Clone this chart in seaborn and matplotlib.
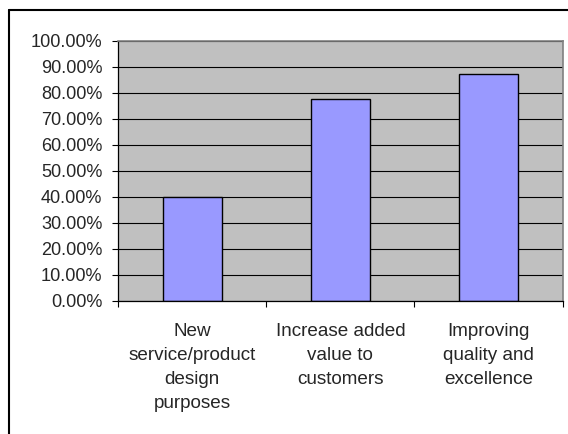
import matplotlib
matplotlib.use("Agg")
import matplotlib.pyplot as plt
import matplotlib.ticker as mticker
from matplotlib.lines import Line2D
import seaborn as sns
import pandas as pd

# Chart data
categories = [
    "New\nservice/product\ndesign\npurposes",
    "Increase added\nvalue to\ncustomers",
    "Improving\nquality and\nexcellence",
]
shares = [0.40, 0.774, 0.873]
y_ticks = [i / 10 for i in range(11)]

df = pd.DataFrame({"category": categories, "share": shares})

sns.set_style("white")
plt.rcParams["font.family"] = ["Liberation Sans", "DejaVu Sans"]

W, H = 568, 434
fig = plt.figure(figsize=(W / 100, H / 100), dpi=100)
fig.patch.set_facecolor("white")

# Plot area placed in pixel terms
left, right, top, bottom = 118.3, 562.5, 40.7, 300.7
ax = fig.add_axes([left / W, 1 - bottom / H, (right - left) / W, (bottom - top) / H])
ax.set_facecolor("#C0C0C0")

sns.barplot(data=df, x="category", y="share", color="#9999FF",
            edgecolor="black", linewidth=1.0, width=0.4, saturation=1, ax=ax)

ax.set_xlim(-0.5, len(categories) - 0.5)
ax.set_ylim(0, 1)
ax.set_xlabel("")
ax.set_ylabel("")

# Horizontal gridlines behind the bars
ax.set_axisbelow(True)
ax.set_yticks(y_ticks)
ax.yaxis.set_major_formatter(mticker.FuncFormatter(lambda v, _: f"{v * 100:.2f}%"))
ax.grid(axis="y", color="black", linewidth=0.8)
ax.grid(axis="x", visible=False)

# Category labels centred on bars, tick marks at category boundaries
ax.set_xticks(range(len(categories)))
ax.set_xticklabels(categories, fontsize=13.6, linespacing=1.55)
ax.set_xticks([i - 0.5 for i in range(len(categories) + 1)], minor=True)
ax.tick_params(axis="x", which="major", length=0, pad=16)
ax.tick_params(axis="x", which="minor", length=4, width=0.8, color="black", direction="out")
ax.tick_params(axis="y", length=4, width=0.8, color="black", direction="out",
               labelsize=13.1, pad=7.5)
ax.tick_params(axis="x", bottom=True, which="both")
ax.tick_params(axis="y", left=True)

for side in ("left", "bottom"):
    ax.spines[side].set_color("black")
    ax.spines[side].set_linewidth(0.9)
for side in ("top", "right"):
    ax.spines[side].set_color("#808080")
    ax.spines[side].set_linewidth(1.2)
    ax.spines[side].set_visible(True)

# Chart-area frame along the left and top edges
fx, fy = 8.5 / W, 1 - 9.5 / H
fig.add_artist(Line2D([fx, fx], [0, fy], transform=fig.transFigure, color="black", linewidth=1.5))
fig.add_artist(Line2D([fx, 1], [fy, fy], transform=fig.transFigure, color="black", linewidth=1.5))

fig.savefig("out.png", dpi=100)
